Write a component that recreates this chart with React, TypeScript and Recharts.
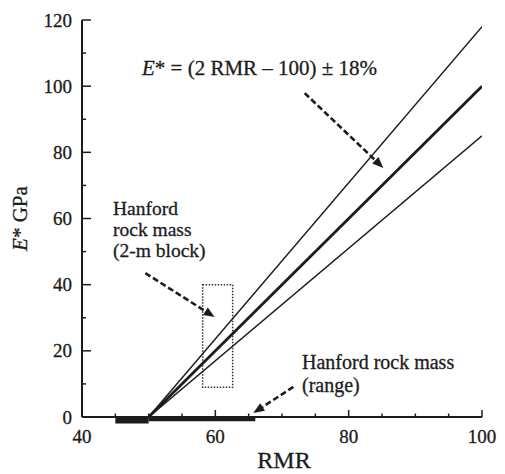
import { ComposedChart, Line, XAxis, YAxis, ReferenceArea, ReferenceLine, ReferenceDot } from 'recharts';

// lines: E* = (2 RMR - 100) and the +/- band
const rmr = [50, 100];
const upperE = [0, 118];
const meanE = [0, 100];
const lowerE = [0, 85];

// axis ticks
const xMajor = [40, 60, 80, 100];
const xMinor = [45, 50, 55, 65, 70, 75, 85, 90, 95];
const yMajor = [0, 20, 40, 60, 80, 100, 120];
const yMinor = [10, 30, 50, 70, 90, 110];

// Hanford rock mass (2-m block) box
const blockRmr = [58.1, 62.6];
const blockE = [9, 40];

// Hanford rock mass range on the RMR axis
const rangeThick = [45, 50];
const rangeThin = [50, 66];

// dashed arrows [rmr, E]
const arrowFrom = [[73.4, 97.9], [49.5, 43.5], [71.7, 9.1]];
const arrowTo = [[85.2, 75.3], [59.9, 30.2], [65.7, 1.2]];

const table = rmr.map((x, i) => ({ rmr: x, upper: upperE[i], mean: meanE[i], lower: lowerE[i] }));

const ink = '#1c1c1c';
const serif = 'Liberation Serif, Times New Roman, serif';
const xTicks = [...xMajor, ...xMinor].sort((a, b) => a - b);
const yTicks = [...yMajor, ...yMinor].sort((a, b) => a - b);

// scanned look: a hairline stroke makes the serif text a bit heavier
const textStyle = { fontFamily: serif, fill: ink, stroke: ink, strokeWidth: 0.3 };

const LeftTick = ({ x, y, payload }: any) => {
  const major = yMajor.includes(payload.value);
  return (
    <g>
      <line x1={x} x2={x + (major ? 9 : 4)} y1={y} y2={y} stroke={ink} strokeWidth={1.5} />
      {major && (
        <text x={x - 10} y={y} dy="0.35em" textAnchor="end" fontSize={19} style={textStyle}>
          {payload.value}
        </text>
      )}
    </g>
  );
};

const RightTick = ({ x, y, payload }: any) => {
  const major = yMajor.includes(payload.value);
  return <line x1={x} x2={x - (major ? 9 : 5)} y1={y} y2={y} stroke={ink} strokeWidth={1.5} />;
};

const BottomTick = ({ x, y, payload }: any) => {
  const major = xMajor.includes(payload.value);
  return (
    <g>
      <line x1={x} x2={x} y1={y} y2={y - (major ? 7 : 3.5)} stroke={ink} strokeWidth={1.5} />
      {major && (
        <text x={x} y={y + 26} textAnchor="middle" fontSize={19} style={textStyle}>
          {payload.value}
        </text>
      )}
    </g>
  );
};

const TopTick = ({ x, y, payload }: any) => {
  const major = xMajor.includes(payload.value);
  return <line x1={x} x2={x} y1={y} y2={y + (major ? 8 : 4)} stroke={ink} strokeWidth={1.5} />;
};

const Arrow = ({ x1, y1, x2, y2 }: any) => {
  const dx = x2 - x1;
  const dy = y2 - y1;
  const len = Math.sqrt(dx * dx + dy * dy);
  const ux = dx / len;
  const uy = dy / len;
  const head = 11;
  const bx = x2 - ux * head;
  const by = y2 - uy * head;
  return (
    <g>
      <line x1={x1} y1={y1} x2={bx} y2={by} stroke={ink} strokeWidth={2.6} strokeDasharray="6 3" />
      <polygon
        points={`${x2},${y2} ${bx - uy * 4.5},${by + ux * 4.5} ${bx + uy * 4.5},${by - ux * 4.5}`}
        fill={ink}
      />
    </g>
  );
};

const Note = (lines: React.ReactNode[], size: number, gap: number) => ({ cx, cy }: any) => (
  <text x={cx} y={cy} fontSize={size} style={textStyle}>
    {lines.map((l, i) => (
      <tspan key={i} x={cx} dy={i === 0 ? 0 : gap}>
        {l}
      </tspan>
    ))}
  </text>
);

export default function App() {
  return (
    <div style={{ position: 'absolute', left: 0, top: 0, background: '#fff', fontFamily: serif }}>
      <ComposedChart width={505} height={474} data={table} margin={{ top: 20, right: 23, bottom: 27, left: 22 }}>
        <XAxis
          dataKey="rmr"
          type="number"
          domain={[40, 100]}
          ticks={xTicks}
          interval={0}
          allowDataOverflow
          height={30}
          tickSize={0}
          tickMargin={0}
          tickLine={false}
          tick={<BottomTick />}
          axisLine={{ stroke: ink, strokeWidth: 2 }}
          label={({ viewBox }: any) => (
            <text x={viewBox.x + viewBox.width / 2 + 2} y={468} textAnchor="middle" fontSize={24} style={textStyle}>
              RMR
            </text>
          )}
        />
        <XAxis
          xAxisId="top"
          dataKey="rmr"
          type="number"
          orientation="top"
          domain={[40, 100]}
          ticks={xTicks}
          interval={0}
          allowDataOverflow
          height={0}
          tickSize={0}
          tickMargin={0}
          tickLine={false}
          tick={<TopTick />}
          axisLine={{ stroke: ink, strokeWidth: 2 }}
        />
        <YAxis
          type="number"
          domain={[0, 120]}
          ticks={yTicks}
          interval={0}
          allowDataOverflow
          width={60}
          tickSize={0}
          tickMargin={0}
          tickLine={false}
          tick={<LeftTick />}
          axisLine={{ stroke: ink, strokeWidth: 2 }}
          label={({ viewBox }: any) => {
            const lx = viewBox.x + 5;
            const ly = viewBox.y + viewBox.height / 2;
            return (
              <text x={lx} y={ly} transform={`rotate(-90 ${lx} ${ly})`} textAnchor="middle" fontSize={21} style={textStyle}>
                <tspan fontStyle="italic">E</tspan>* GPa
              </text>
            );
          }}
        />
        <YAxis
          yAxisId="right"
          type="number"
          orientation="right"
          domain={[0, 120]}
          ticks={yTicks}
          interval={0}
          allowDataOverflow
          width={0}
          tickSize={0}
          tickMargin={0}
          tickLine={false}
          tick={<RightTick />}
          axisLine={{ stroke: ink, strokeWidth: 2 }}
        />

        <ReferenceArea
          x1={blockRmr[0]}
          x2={blockRmr[1]}
          y1={blockE[0]}
          y2={blockE[1]}
          fill="none"
          stroke="#333"
          strokeWidth={1.5}
          strokeDasharray="1.5 1.5"
          ifOverflow="visible"
        />
        <ReferenceArea x1={rangeThick[0]} x2={rangeThick[1]} y1={-2} y2={0} fill={ink} fillOpacity={1} stroke="none" ifOverflow="visible" />
        <ReferenceArea x1={rangeThin[0]} x2={rangeThin[1]} y1={-1.3} y2={0} fill={ink} fillOpacity={1} stroke="none" ifOverflow="visible" />

        <Line dataKey="upper" stroke={ink} strokeWidth={1.5} dot={false} isAnimationActive={false} />
        <Line dataKey="mean" stroke={ink} strokeWidth={2.8} dot={false} isAnimationActive={false} />
        <Line dataKey="lower" stroke={ink} strokeWidth={1.5} dot={false} isAnimationActive={false} />
        <Line xAxisId="top" yAxisId="right" dataKey="mean" stroke="none" dot={false} activeDot={false} isAnimationActive={false} />

        {arrowFrom.map((f, i) => (
          <ReferenceLine
            key={i}
            segment={[{ x: f[0], y: f[1] }, { x: arrowTo[i][0], y: arrowTo[i][1] }]}
            shape={<Arrow />}
            ifOverflow="visible"
          />
        ))}

        <ReferenceDot
          x={49}
          y={103.4}
          r={0}
          ifOverflow="visible"
          shape={Note([<><tspan fontStyle="italic">E</tspan>* = (2 RMR – 100) ± 18%</>], 21, 0)}
        />
        <ReferenceDot x={44.65} y={61} r={0} ifOverflow="visible" shape={Note(['Hanford', 'rock mass', '(2-m block)'], 19.5, 21)} />
        <ReferenceDot x={73} y={14.5} r={0} ifOverflow="visible" shape={Note(['Hanford rock mass', '(range)'], 20, 23)} />
      </ComposedChart>
    </div>
  );
}
